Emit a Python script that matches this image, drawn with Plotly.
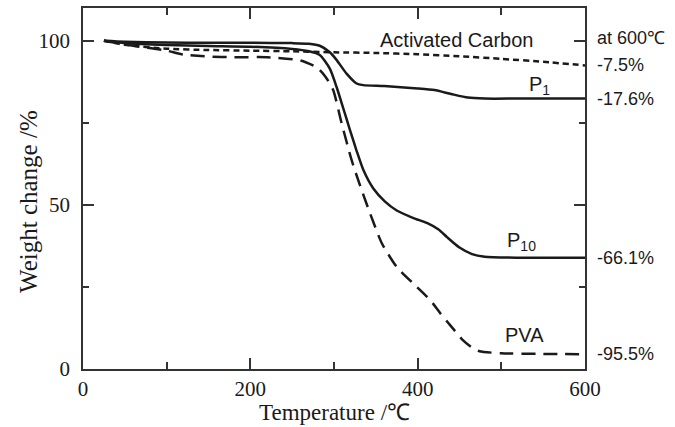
import plotly.graph_objects as go

# Temperature (°C) and weight (%) for each sample
t_ac = [25, 50, 100, 150, 200, 250, 300, 350, 400, 450, 500, 550, 600]
w_ac = [100, 98.8, 97.6, 97.2, 97.0, 96.8, 96.5, 96.3, 95.9, 95.3, 94.5, 93.6, 92.5]

t_p1 = [25, 50, 100, 150, 200, 250, 270, 283, 295, 303, 315, 327, 335, 360, 400, 420, 440, 460, 480, 520, 600]
w_p1 = [100, 99.7, 99.5, 99.4, 99.4, 99.3, 99.1, 98.5, 96.5, 94.2, 90.0, 87.0, 86.5, 86.2, 85.5, 85.0, 83.8, 82.7, 82.4, 82.4, 82.4]

t_p10 = [25, 50, 100, 150, 200, 250, 270, 283, 295, 303, 311, 319, 327, 335, 347, 361, 375, 395, 411, 425, 435, 450, 465, 480, 520, 600]
w_p10 = [100, 99.3, 98.7, 98.4, 98.2, 97.5, 96.8, 95.7, 91.5, 86.0, 79.5, 72.9, 66.5, 60.7, 55.0, 51.0, 48.3, 46.0, 44.5, 42.5, 40.2, 37.0, 35.0, 34.2, 33.9, 33.9]

t_pva = [25, 60, 100, 120, 150, 180, 220, 260, 280, 290, 299, 309, 321, 331, 343, 357, 375, 399, 415, 427, 440, 454, 465, 474, 500, 550, 600]
w_pva = [100, 98.5, 97.0, 95.8, 95.2, 95.0, 95.0, 94.0, 91.8, 89.0, 85.0, 75.0, 63.7, 56.0, 47.5, 38.4, 31.1, 25.0, 21.0, 17.0, 13.0, 8.8, 6.5, 5.4, 4.8, 4.6, 4.5]

curve_names = ["Activated Carbon", "P1", "P10", "PVA"]
line_dash = ["6px,4px", "solid", "solid", "14px,8px"]

label_text = ["Activated Carbon", "P<sub>1</sub>", "P<sub>10</sub>", "PVA"]
label_x = [447, 546, 524, 528]
label_y = [100.3, 86.5, 38.8, 10.3]

end_text = ["at 600℃", "-7.5%", "-17.6%", "-66.1%", "-95.5%"]
end_y = [101.0, 92.5, 82.4, 33.9, 4.5]

x_ticks = [0, 200, 400, 600]
y_ticks = [0, 50, 100]

fig = go.Figure()
series = [(t_ac, w_ac), (t_p1, w_p1), (t_p10, w_p10), (t_pva, w_pva)]
for (tx, wy), nm, ds in zip(series, curve_names, line_dash):
    fig.add_trace(go.Scatter(
        x=tx, y=wy, mode="lines", name=nm,
        line=dict(color="#1a1a1a", width=2.5, dash=ds, shape="spline", smoothing=0.6),
        showlegend=False,
    ))

lab_font = dict(family="Liberation Sans, Arial, sans-serif", size=20, color="#1a1a1a")
end_font = dict(family="Liberation Sans, Arial, sans-serif", size=18, color="#1a1a1a")
for txt, xx, yy in zip(label_text, label_x, label_y):
    fig.add_annotation(x=xx, y=yy, text=txt, showarrow=False, font=lab_font,
                       xanchor="center", yanchor="middle")
for txt, yy in zip(end_text, end_y):
    fig.add_annotation(x=1.02, xref="paper", y=yy, yref="y", text=txt, showarrow=False,
                       font=end_font, xanchor="left", yanchor="middle")

axis_font = dict(family="Liberation Serif, Times New Roman, serif", size=21, color="#1a1a1a")

# axis titles placed as annotations for exact positioning
fig.add_annotation(x=0.5, xref="paper", y=-0.12, yref="paper", text="Temperature /℃",
                   showarrow=False, font=dict(axis_font, size=23),
                   xanchor="center", yanchor="middle")
fig.add_annotation(x=-0.11, xref="paper", y=0.465, yref="paper", text="Weight change /%",
                   showarrow=False, font=dict(axis_font, size=25), textangle=-90,
                   xanchor="center", yanchor="middle")

fig.update_layout(
    width=675, height=427,
    margin=dict(l=83, r=90, t=8, b=58, autoexpand=False),
    paper_bgcolor="white", plot_bgcolor="white",
    font=axis_font,
    xaxis=dict(
        range=[0, 600], tickvals=x_ticks, ticktext=[str(v) for v in x_ticks],
        ticks="inside", ticklen=11, tickwidth=1.5, tickcolor="#333",
        minor=dict(dtick=100, ticks="inside", ticklen=7, tickwidth=1.5, tickcolor="#333"),
        showline=True, linecolor="#333", linewidth=1.8, mirror="ticks",
        showgrid=False, zeroline=False, automargin=False,
        tickfont=axis_font,
    ),
    yaxis=dict(
        range=[0, 110], tickvals=y_ticks, ticktext=[str(v) for v in y_ticks],
        ticks="inside", ticklen=11, tickwidth=1.5, tickcolor="#333",
        minor=dict(dtick=25, ticks="inside", ticklen=6, tickwidth=1.5, tickcolor="#333"),
        showline=True, linecolor="#333", linewidth=1.8, mirror="ticks",
        showgrid=False, zeroline=False, automargin=False, ticklabelstandoff=7,
        tickfont=axis_font,
    ),
)

fig.write_html("out.html", config={"displayModeBar": False},
               post_script="document.body.style.margin='0px';document.body.style.overflow='hidden';")
